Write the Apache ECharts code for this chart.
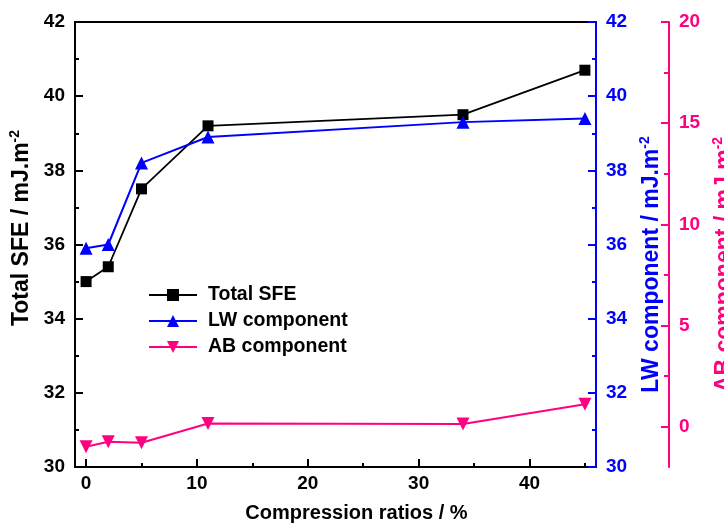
<!DOCTYPE html>
<html>
<head>
<meta charset="utf-8">
<script src="https://cdn.jsdelivr.net/npm/echarts@6/dist/echarts.min.js"></script>
<style>
  html, body { margin: 0; padding: 0; background: #fff; }
  #chart { width: 724px; height: 524px; }
</style>
</head>
<body>
<div id="chart"></div>
<script>
const compressionRatios = [0, 2, 5, 11, 34, 45];
const totalSFE = [35.0, 35.4, 37.5, 39.2, 39.5, 40.7];
const lwComponent = [35.9, 36.0, 38.2, 38.9, 39.3, 39.4];
const abComponent = [-1.0, -0.75, -0.8, 0.15, 0.13, 1.1];
const xTickValues = [0, 10, 20, 30, 40];
const xMinorTickValues = [5, 15, 25, 35, 45];
const abTickValues = [0, 5, 10, 15, 20];
const abMinorTickValues = [2.5, 7.5, 12.5, 17.5];
const seriesNames = ['Total SFE', 'LW component', 'AB component'];

const FONT = 'Arial, "Liberation Sans", sans-serif';
const BLACK = '#000000';
const BLUE = '#0000FF';
const PINK = '#FF0080';

function pairs(ys) { return compressionRatios.map((x, i) => [x, ys[i]]); }
function richName(color) {
  return {
    m: { fontSize: 23, fontWeight: 'bold', fontFamily: FONT, color: color, lineHeight: 27 },
    s: { fontSize: 14, fontWeight: 'bold', fontFamily: FONT, color: color, verticalAlign: 'top', lineHeight: 14 }
  };
}
const labelStyle = (c) => ({ fontSize: 19, fontWeight: 'bold', fontFamily: FONT, color: c });

const chart = echarts.init(document.getElementById('chart'), null, { renderer: 'canvas' });
chart.setOption({
  animation: false,
  backgroundColor: '#fff',
  grid: { left: 75, right: 128, top: 22, bottom: 57, containLabel: false, outerBoundsMode: 'none' },
  legend: {
    orient: 'vertical', left: 143, top: 280,
    itemWidth: 48, itemHeight: 15, itemGap: 6,
    data: seriesNames,
    textStyle: { fontSize: 19.5, fontWeight: 'bold', fontFamily: FONT, color: BLACK, padding: [0, 0, 0, 6] }
  },
  xAxis: [
    {
      type: 'value', position: 'bottom', min: -1, max: 46,
      name: 'Compression ratios / %', nameLocation: 'middle', nameGap: 36,
      nameTextStyle: { fontSize: 20, fontWeight: 'bold', fontFamily: FONT, color: BLACK, padding: [0, 0, 0, 42] },
      axisLine: { show: true, onZero: false, lineStyle: { color: BLACK, width: 2 } },
      axisTick: { show: true, inside: true, length: 8, lineStyle: { color: BLACK, width: 2 }, customValues: xTickValues },
      axisLabel: Object.assign({ customValues: xTickValues, margin: 7 }, labelStyle(BLACK)),
      splitLine: { show: false }
    },
    {
      type: 'value', position: 'bottom', min: -1, max: 46,
      axisLine: { show: false, onZero: false },
      axisTick: { show: true, inside: true, length: 4, lineStyle: { color: BLACK, width: 2 }, customValues: xMinorTickValues },
      axisLabel: { show: false },
      splitLine: { show: false }
    },
    {
      type: 'value', position: 'top', min: -1, max: 46,
      axisLine: { show: true, onZero: false, lineStyle: { color: BLACK, width: 2 } },
      axisTick: { show: false }, axisLabel: { show: false }, splitLine: { show: false }
    }
  ],
  yAxis: [
    {
      type: 'value', position: 'left', min: 30, max: 42, interval: 2,
      name: '{m|Total SFE / mJ.m}{s|-2}', nameLocation: 'middle', nameGap: 34,
      nameTextStyle: { rich: richName(BLACK), padding: [0, 0, 0, 33] },
      axisLine: { show: true, onZero: false, lineStyle: { color: BLACK, width: 2 } },
      axisTick: { show: true, inside: true, length: 8, lineStyle: { color: BLACK, width: 2 } },
      minorTick: { show: true, splitNumber: 2, length: 4, lineStyle: { color: BLACK, width: 2 } },
      axisLabel: Object.assign({ margin: 10 }, labelStyle(BLACK)),
      splitLine: { show: false }
    },
    {
      type: 'value', position: 'right', min: 30, max: 42, interval: 2,
      name: '{m|LW component / mJ.m}{s|-2}', nameLocation: 'middle', nameGap: 32,
      nameTextStyle: { rich: richName(BLUE), padding: [0, 40, 0, 0] },
      axisLine: { show: true, onZero: false, lineStyle: { color: BLUE, width: 2 } },
      axisTick: { show: true, inside: true, length: 8, lineStyle: { color: BLUE, width: 2 } },
      minorTick: { show: true, splitNumber: 2, length: 4, lineStyle: { color: BLUE, width: 2 } },
      axisLabel: Object.assign({ margin: 10 }, labelStyle(BLUE)),
      splitLine: { show: false }
    },
    {
      type: 'value', position: 'right', offset: 73, min: -2, max: 20,
      name: '{m|AB component / mJ.m}{s|-2}', nameLocation: 'middle', nameGap: 29,
      nameTextStyle: { rich: richName(PINK), padding: [0, 40, 0, 0] },
      axisLine: { show: true, onZero: false, lineStyle: { color: PINK, width: 2 } },
      axisTick: { show: true, inside: true, length: 8, lineStyle: { color: PINK, width: 2 }, customValues: abTickValues },
      axisLabel: Object.assign({ margin: 10, customValues: abTickValues }, labelStyle(PINK)),
      splitLine: { show: false }
    },
    {
      type: 'value', position: 'right', offset: 73, min: -2, max: 20,
      axisLine: { show: false, onZero: false },
      axisTick: { show: true, inside: true, length: 5, lineStyle: { color: PINK, width: 2 }, customValues: abMinorTickValues },
      axisLabel: { show: false },
      splitLine: { show: false }
    }
  ],
  series: [
    {
      name: seriesNames[0], type: 'line', xAxisIndex: 0, yAxisIndex: 0,
      data: pairs(totalSFE), symbol: 'rect', symbolSize: 11,
      itemStyle: { color: BLACK }, lineStyle: { color: BLACK, width: 1.8 }
    },
    {
      name: seriesNames[1], type: 'line', xAxisIndex: 0, yAxisIndex: 1,
      data: pairs(lwComponent), symbol: 'triangle', symbolSize: 13,
      itemStyle: { color: BLUE }, lineStyle: { color: BLUE, width: 2 }
    },
    {
      name: seriesNames[2], type: 'line', xAxisIndex: 0, yAxisIndex: 2,
      data: pairs(abComponent), symbol: 'triangle', symbolRotate: 180, symbolSize: 13,
      itemStyle: { color: PINK }, lineStyle: { color: PINK, width: 2 }
    }
  ]
});
</script>
</body>
</html>
